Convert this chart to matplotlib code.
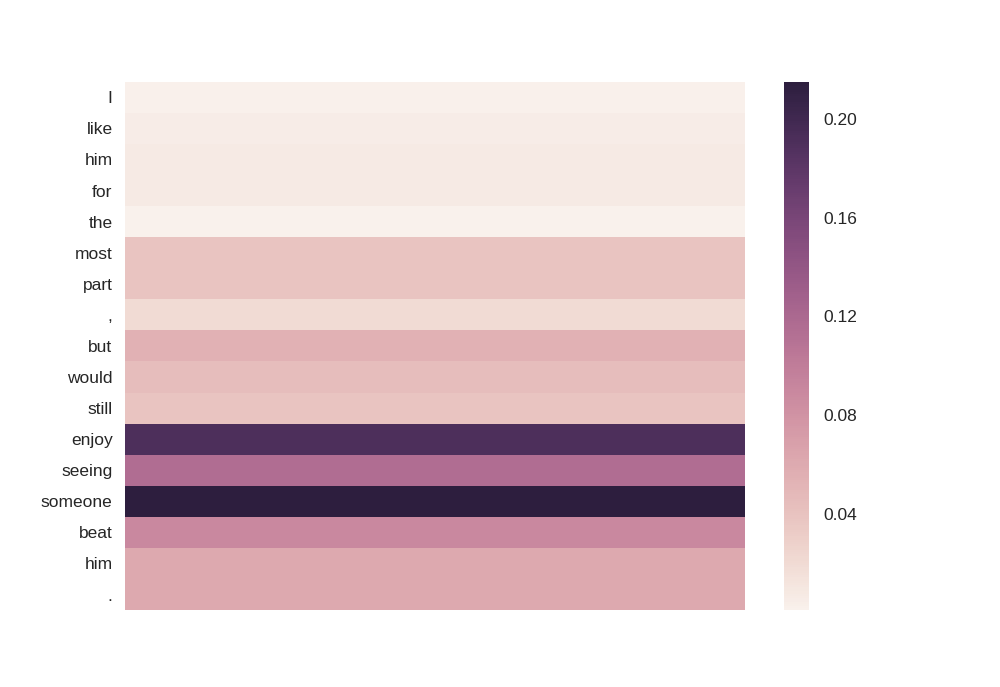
import numpy as np
import matplotlib.pyplot as plt
import seaborn as sns

# tokens of the sentence and their attention weights
tokens = ["I", "like", "him", "for", "the", "most", "part", ",", "but",
          "would", "still", "enjoy", "seeing", "someone", "beat", "him", "."]
weights = [0.002, 0.006, 0.007, 0.007, 0.001, 0.039, 0.038, 0.020, 0.054,
           0.045, 0.039, 0.190, 0.115, 0.215, 0.090, 0.062, 0.062]
cbar_ticks = [0.04, 0.08, 0.12, 0.16, 0.20]

sns.set_style("white")
plt.rcParams['font.family'] = ['Liberation Sans', 'DejaVu Sans']

fig = plt.figure(figsize=(10, 6.87), dpi=100)
ax = fig.add_axes([0.125, 0.112, 0.62, 0.769])
cax = fig.add_axes([0.784, 0.112, 0.025, 0.769])

data = np.array(weights).reshape(-1, 1)
cmap = sns.cubehelix_palette(light=.95, as_cmap=True)
sns.heatmap(data, ax=ax, cbar_ax=cax, cmap=cmap,
            xticklabels=False, yticklabels=tokens,
            cbar_kws={'ticks': cbar_ticks})

ax.tick_params(axis='y', length=0, pad=9, labelsize=12.5, colors='#262626')
plt.setp(ax.get_yticklabels(), rotation=0, va='center_baseline')
cax.tick_params(length=0, pad=10, labelsize=12.5, colors='#262626')
cax.set_yticklabels(['%.2f' % t for t in cbar_ticks])
for s in cax.spines.values():
    s.set_visible(False)

fig.savefig('out.png', dpi=100)
